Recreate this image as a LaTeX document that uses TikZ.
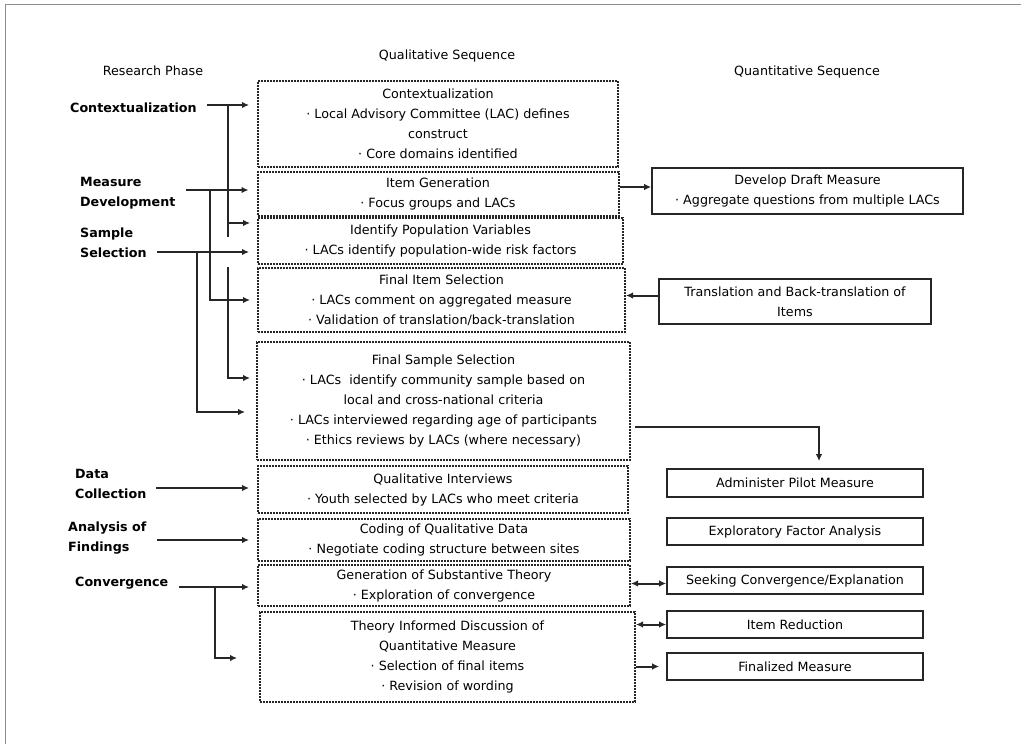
\documentclass[tikz,border=0pt]{standalone}
\usepackage{fontspec}
\setmainfont{DejaVu Sans}
\usetikzlibrary{arrows.meta}
\newcommand{\dotitem}{·~}

\begin{document}
\begin{tikzpicture}[
  x=1pt,y=-1pt,
  font=\fontsize{12.7}{20}\selectfont,
  qual/.style={draw=black!85,line width=2pt,dash pattern=on 2pt off 1pt,
               align=center,inner sep=0pt},
  quant/.style={draw=black!85,line width=1.6pt,align=center,inner sep=0pt},
  phase/.style={font=\fontsize{12.7}{20}\selectfont\bfseries,align=left,
                anchor=west,inner sep=0pt},
  head/.style={inner sep=0pt},
  arrow/.style={-{Latex[length=7pt,width=6.5pt]},line width=2pt,black!85},
  link/.style={line width=2pt,black!85},
  feed/.style={arrow,shorten <=10pt,shorten >=8pt},
  both/.style={{Latex[length=7pt,width=6.5pt]}-{Latex[length=7pt,width=6.5pt]},
               line width=2pt,black!85}
]
\useasboundingbox (0,0) rectangle (1021,744);
\draw[black!45,line width=0.8pt] (5,744) -- (5,4) -- (1021,4);

% column headings
\node[head] (resh) at (153,71) {Research Phase};
\node[head] (qualh) at (447,56) {Qualitative Sequence};
\node[head] (quanth) at (807,72) {Quantitative Sequence};

% qualitative sequence
\node[qual,minimum width=360pt,minimum height=86pt] (ctx) at (438,124)
 {Contextualization\\\dotitem Local Advisory Committee (LAC) defines\\construct\\\dotitem Core domains identified};
\node[qual,minimum width=361pt,minimum height=44pt] (itemgen) at (438,194)
 {Item Generation\\\dotitem Focus groups and LACs};
\node[qual,minimum width=365pt,minimum height=46pt] (idpop) at (440.5,241)
 {Identify Population Variables\\\dotitem LACs identify population-wide risk factors};
\node[qual,minimum width=367pt,minimum height=64pt] (finitem) at (441.5,300)
 {Final Item Selection\\\dotitem LACs comment on aggregated measure\\\dotitem Validation of translation/back-translation};
\node[qual,minimum width=373pt,minimum height=118pt] (finsam) at (443.5,401)
 {Final Sample Selection\\\dotitem LACs\ \ identify community sample based on\\local and cross-national criteria\\\dotitem LACs interviewed regarding age of participants\\\dotitem Ethics reviews by LACs (where necessary)};
\node[qual,minimum width=370pt,minimum height=47pt] (qualint) at (443,489.5)
 {Qualitative Interviews\\\dotitem Youth selected by LACs who meet criteria};
\node[qual,minimum width=372pt,minimum height=42pt] (coding) at (444,540)
 {Coding of Qualitative Data\\\dotitem Negotiate coding structure between sites};
\node[qual,minimum width=372pt,minimum height=41pt] (gener) at (444,585.5)
 {Generation of Substantive Theory\\\dotitem Exploration of convergence};
\node[qual,minimum width=375pt,minimum height=90pt] (theory) at (447.5,657)
 {Theory Informed Discussion of\\Quantitative Measure\\\dotitem Selection of final items\\\dotitem Revision of wording};

% quantitative sequence
\node[quant,minimum width=311pt,minimum height=46pt] (develop) at (807.5,191)
 {Develop Draft Measure\\\dotitem Aggregate questions from multiple LACs};
\node[quant,minimum width=272pt,minimum height=45pt] (trans) at (795,301.5)
 {Translation and Back-translation of\\Items};
\node[quant,minimum width=256pt,minimum height=28pt] (admin) at (795,483) {Administer Pilot Measure};
\node[quant,minimum width=256pt,minimum height=27pt] (efa) at (795,531.5) {Exploratory Factor Analysis};
\node[quant,minimum width=256pt,minimum height=27pt] (seek) at (795,580.5) {Seeking Convergence/Explanation};
\node[quant,minimum width=256pt,minimum height=27pt] (itemred) at (795,624.5) {Item Reduction};
\node[quant,minimum width=256pt,minimum height=27pt] (final) at (795,666.5) {Finalized Measure};

% research phases
\node[phase] (ctxlbl) at (70,108) {Contextualization};
\node[phase] (measlbl) at (80,193) {Measure\\Development};
\node[phase] (samplbl) at (80,243) {Sample\\Selection};
\node[phase] (datalbl) at (75,484) {Data\\Collection};
\node[phase] (analbl) at (68,538) {Analysis of\\Findings};
\node[phase] (convlbl) at (75,583) {Convergence};

\draw[feed] ([yshift=3pt]ctxlbl.east) -- ([yshift=3pt]ctxlbl.east -| ctx.west);
\draw[feed] ([yshift=3pt]measlbl.east) -- ([yshift=3pt]measlbl.east -| itemgen.west);
\draw[feed] ([yshift=-9pt]samplbl.east) -- ([yshift=-9pt]samplbl.east -| idpop.west);
\draw[feed] ([yshift=-4pt]datalbl.east) -- ([yshift=-4pt]datalbl.east -| qualint.west);
\draw[feed] ([yshift=-2pt]analbl.east) -- ([yshift=-2pt]analbl.east -| coding.west);
\draw[feed] ([yshift=-4pt]convlbl.east) -- ([yshift=-4pt]convlbl.east -| gener.west);

% branches (gap where the sample line crosses)
\coordinate (ctxfork) at (228,105);
\draw[link] (ctxfork) -- ++(0,132);
\draw[arrow] (ctxfork) ++(0,118) -- ++(22,0);
\draw[arrow] (ctxfork) ++(0,162) -- ++(0,111) -- ++(22,0);
\coordinate (measfork) at (210,190);
\draw[arrow] (measfork) -- ++(0,110) -- ++(40,0);
\coordinate (sampfork) at (197,252);
\draw[arrow] (sampfork) -- ++(0,160) -- ++(48,0);
\coordinate (convfork) at (215,587);
\draw[arrow] (convfork) -- ++(0,71) -- ++(22,0);

% links between the sequences
\draw[arrow] ([yshift=7pt]itemgen.east) -- ([yshift=7pt]itemgen.east -| develop.west);
\draw[arrow] ([yshift=6pt]trans.west) -- ([yshift=6pt]trans.west -| finitem.east);
\draw[arrow,shorten <=4pt,shorten >=7pt] ([yshift=-26pt]finsam.east) -| ([xshift=24pt]admin.north);
\draw[both] ([yshift=2pt]gener.east) -- ([yshift=2pt]gener.east -| seek.west);
\draw[both] (itemred.west -| theory.east) -- (itemred.west);
\draw[arrow,shorten >=7pt] (final.west -| theory.east) -- (final.west);
\end{tikzpicture}
\end{document}
